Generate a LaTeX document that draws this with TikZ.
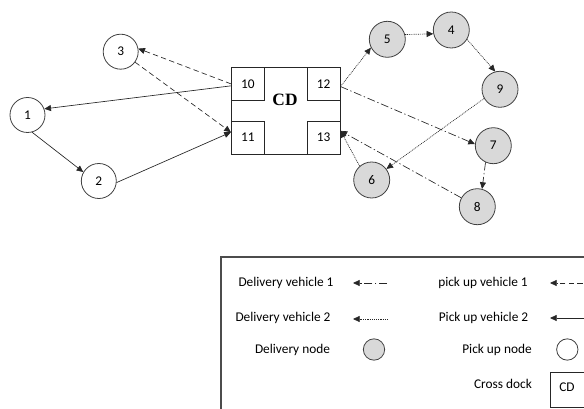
\documentclass[tikz,border=0pt]{standalone}
\usepackage{fontspec}
\setmainfont{Carlito}
\newfontfamily\cdfont{Liberation Serif}
\usetikzlibrary{arrows.meta,calc}
\begin{document}
\begin{tikzpicture}[x=0.75pt,y=-0.75pt,
  every node/.style={font=\fontsize{10}{12}\selectfont},
  pnode/.style={circle,draw=black!75,line width=0.6pt,minimum size=26.25pt,inner sep=0pt},
  dnode/.style={pnode,fill=gray!30,minimum size=27pt},
  sub/.style={rectangle,draw=black!85,line width=0.7pt,minimum size=24.75pt,inner sep=0pt},
  tip/.style={-{Triangle[length=5pt,width=4.5pt]},line width=0.5pt,draw=black!85},
  pvone/.style={tip,dash pattern=on 4pt off 2.5pt},
  pvtwo/.style={tip},
  dvone/.style={tip,dash pattern=on 6pt off 2pt on 1pt off 2pt},
  dvtwo/.style={tip,dash pattern=on 0.7pt off 0.7pt},
  ]
\useasboundingbox (0,0) rectangle (584,409);
\clip (0,0) rectangle (584,409);

% cross dock
\node[rectangle,draw=black!85,line width=0.7pt,minimum width=81.5pt,minimum height=65pt,inner sep=0pt] (cd) at (285.7,110.7) {};
\node[font=\cdfont\bfseries\fontsize{13}{15}\selectfont] (cdt) at (285,100) {CD};
\node[sub,anchor=north west] (n10) at (cd.north west) {10};
\node[sub,anchor=north east] (n12) at (cd.north east) {12};
\node[sub,anchor=south west] (n11) at (cd.south west) {11};
\node[sub,anchor=south east] (n13) at (cd.south east) {13};

% pick up nodes
\node[pnode] (n3) at (120.7,51.7) {3};
\node[pnode] (n1) at (27.5,115) {1};
\node[pnode] (n2) at (98.8,181) {2};

% delivery nodes
\node[dnode] (n5) at (387.3,39.3) {5};
\node[dnode] (n4) at (451.3,30) {4};
\node[dnode] (n9) at (500,89.3) {9};
\node[dnode] (n7) at (493.3,145.7) {7};
\node[dnode] (n6) at (371.7,180) {6};
\node[dnode] (n8) at (477.3,206.7) {8};

% pick up vehicle 1
\draw[pvone] (n10.west) -- (n3.10);
\draw[pvone] (n3) -- ([yshift=4pt]n11.west);
% pick up vehicle 2
\draw[pvtwo] ([yshift=-1.5pt]n10.west) -- (n1.20);
\draw[pvtwo] (n1.-75) -- (n2.150);
\draw[pvtwo] (n2.-5) -- ([yshift=4pt]n11.west);
% delivery vehicle 2
\draw[dvtwo] ([yshift=-2pt]n12.east) -- (n5.-153);
\draw[dvtwo] (n5.15) -- (n4.-168);
\draw[dvtwo] (n4.-31) -- (n9.105);
\draw[dvtwo] (n9.-150) -- (n6.37);
\draw[dvtwo] (n6.131) -- ([yshift=5pt]n13.east);
% delivery vehicle 1
\draw[dvone] ([yshift=-2pt]n12.east) -- (n7.175);
\draw[dvone] (n7.-115) -- (n8.75);
\draw[dvone] (n8.151) -- ([yshift=5pt]n13.east);

% legend
\draw[draw=black!70,line width=0.8pt] (221,257) rectangle (640,460);
\node (l1) at (286,283) {Delivery vehicle 1};
\node (l2) at (283,318) {Delivery vehicle 2};
\node (l3) at (292.5,350) {Delivery node};
\node (l4) at (483,283) {pick up vehicle 1};
\node (l5) at (483.5,318) {Pick up vehicle 2};
\node (l6) at (497,350) {Pick up node};
\node (l7) at (503,384) {Cross dock};
\coordinate (a1s) at (387,283); \coordinate (a1e) at (353,283);
\coordinate (a2s) at (388,319); \coordinate (a2e) at (353,319);
\coordinate (a3s) at (600,283); \coordinate (a3e) at (550,283);
\coordinate (a4s) at (600,318); \coordinate (a4e) at (550,318);
\draw[dvone] (a1s) -- (a1e);
\draw[dvtwo] (a2s) -- (a2e);
\draw[pvone] (a3s) -- (a3e);
\draw[pvtwo] (a4s) -- (a4e);
\node[dnode,minimum size=16pt] (ld) at (374,349.5) {};
\node[pnode,minimum size=16pt] (lp) at (567.3,349.5) {};
\draw[draw=black!85,line width=0.7pt] (550,372) rectangle (640,407);
\node (lcd) at (567,387) {CD};
\end{tikzpicture}
\end{document}
